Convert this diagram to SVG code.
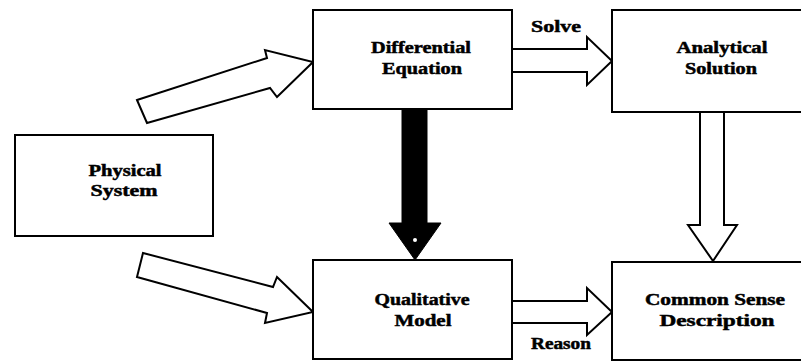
<svg xmlns="http://www.w3.org/2000/svg" width="801" height="362" viewBox="0 0 801 362">
  <style>
    .box { fill: #ffffff; stroke: #000000; stroke-width: 2; }
    .hollow { fill: #ffffff; stroke: #000000; stroke-width: 2; stroke-linejoin: miter; }
    .solid { fill: #000000; stroke: #000000; stroke-width: 1; }
    .lbl { font-family: "Liberation Serif", "Times New Roman", serif; font-weight: bold; font-size: 17px; fill: #000000; stroke: #000000; stroke-width: 0.5; text-anchor: middle; }
    .edge { font-family: "Liberation Serif", "Times New Roman", serif; font-weight: bold; font-size: 17px; fill: #000000; stroke: #000000; stroke-width: 0.5; }
  </style>
  <rect width="801" height="362" fill="#ffffff"/>

  <g id="connectors">
    <!-- Physical System to Differential Equation -->
    <polygon class="hollow" points="137,100 267,58 265,50 313,62 277,97 270,88 147,123"/>
    <!-- Physical System to Qualitative Model -->
    <polygon class="hollow" points="143,253 273,287 277,277 313,312 265,323 267,313 137,277"/>
    <!-- Solve -->
    <polygon class="hollow" points="512,49 587,49 587,37 612,61 587,85 587,72 512,72"/>
    <text class="edge" x="531" y="32" textLength="50" lengthAdjust="spacingAndGlyphs">Solve</text>
    <!-- Reason -->
    <polygon class="hollow" points="512,301 587,301 587,288 612,312 587,335 587,323 512,323"/>
    <text class="edge" x="531" y="349" textLength="60" lengthAdjust="spacingAndGlyphs">Reason</text>
    <!-- Differential Equation to Qualitative Model (solid) -->
    <polygon class="solid" points="402,109 427,109 427,223 441,223 415,260 389,223 402,223"/>
    <circle cx="415" cy="240" r="2" fill="#ffffff"/>
    <!-- Analytical Solution to Common Sense Description -->
    <polygon class="hollow" points="700,112 724,112 724,225 737,225 713,261 688,225 700,225"/>
  </g>

  <g id="physical-system">
    <rect class="box" x="15" y="135" width="198" height="101"/>
    <text class="lbl" x="125" y="176" textLength="73" lengthAdjust="spacingAndGlyphs">Physical</text>
    <text class="lbl" x="124" y="196" textLength="67" lengthAdjust="spacingAndGlyphs">System</text>
  </g>

  <g id="differential-equation">
    <rect class="box" x="313" y="10" width="199" height="99"/>
    <text class="lbl" x="421" y="53" textLength="100" lengthAdjust="spacingAndGlyphs">Differential</text>
    <text class="lbl" x="422" y="74" textLength="80" lengthAdjust="spacingAndGlyphs">Equation</text>
  </g>

  <g id="analytical-solution">
    <rect class="box" x="612" y="10" width="200" height="102"/>
    <text class="lbl" x="722" y="53" textLength="91" lengthAdjust="spacingAndGlyphs">Analytical</text>
    <text class="lbl" x="721" y="74" textLength="72" lengthAdjust="spacingAndGlyphs">Solution</text>
  </g>

  <g id="qualitative-model">
    <rect class="box" x="313" y="260" width="199" height="99"/>
    <text class="lbl" x="422" y="305" textLength="95" lengthAdjust="spacingAndGlyphs">Qualitative</text>
    <text class="lbl" x="423" y="326" textLength="57" lengthAdjust="spacingAndGlyphs">Model</text>
  </g>

  <g id="common-sense-description">
    <rect class="box" x="612" y="262" width="200" height="98"/>
    <text class="lbl" x="715" y="305" textLength="140" lengthAdjust="spacingAndGlyphs">Common Sense</text>
    <text class="lbl" x="717" y="326" textLength="115" lengthAdjust="spacingAndGlyphs">Description</text>
  </g>
</svg>
